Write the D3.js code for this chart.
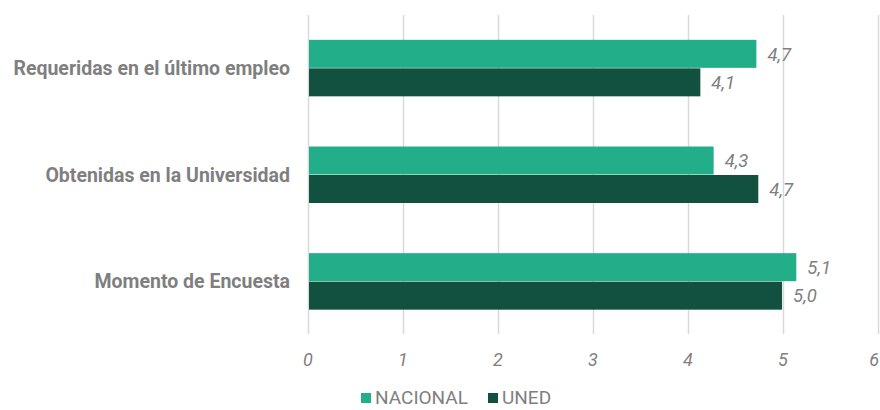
<!DOCTYPE html>
<html>
<head>
<meta charset="utf-8">
<script src="https://cdn.jsdelivr.net/npm/d3@7"></script>
<style>
  html, body { margin: 0; padding: 0; background: #fff; }
  svg { display: block; font-family: Roboto, "Noto Sans", sans-serif; }
</style>
</head>
<body>
<svg id="chart" width="880" height="410"></svg>
<script>
const categories = ["Requeridas en el último empleo", "Obtenidas en la Universidad", "Momento de Encuesta"];
const seriesNames = ["NACIONAL", "UNED"];
const nacional = [4.72, 4.27, 5.14];
const uned = [4.13, 4.74, 4.99];
const xTicks = [0, 1, 2, 3, 4, 5, 6];
const colors = ["#22AE88", "#125040"];

const W = 880, H = 410;
const margin = { top: 15, right: 2, bottom: 75, left: 308 };
const svg = d3.select("#chart");

const x = d3.scaleLinear().domain([0, 6]).range([margin.left, margin.left + 95 * 6]);
const y = d3.scaleBand().domain(categories).range([margin.top, 335]).paddingInner(0).paddingOuter(0);
const barGroupH = 57;
const inner = d3.scaleBand().domain(seriesNames).range([0, barGroupH]).padding(0);

const grey = "#7f7f7f";

// gridlines
svg.append("g").selectAll("line").data(xTicks).join("line")
  .attr("x1", d => x(d) + 0.5).attr("x2", d => x(d) + 0.5)
  .attr("y1", margin.top).attr("y2", 334)
  .attr("stroke", "#d9d9d9").attr("stroke-width", 1.5);

// axis labels
svg.append("g").selectAll("text").data(xTicks).join("text")
  .attr("x", d => d === 6 ? W - 1 : x(d))
  .attr("y", 366)
  .attr("text-anchor", d => d === 6 ? "end" : "middle")
  .attr("font-size", 18).attr("font-style", "italic")
  .attr("fill", grey)
  .text(d => d);

// category labels
svg.append("g").selectAll("text").data(categories).join("text")
  .attr("x", 290).attr("y", d => y(d) + y.bandwidth() / 2)
  .attr("dy", "0.35em")
  .attr("text-anchor", "end")
  .attr("font-size", 19.5).attr("font-weight", "bold")
  .attr("fill", grey)
  .text(d => d);

const series = [nacional, uned];
const fmt = v => d3.format(".1f")(v).replace(".", ",");

series.forEach((vals, si) => {
  const g = svg.append("g");
  const rows = categories.map((c, i) => ({ c, v: vals[i] }));
  g.selectAll("rect").data(rows).join("rect")
    .attr("x", x(0) + 1)
    .attr("y", d => y(d.c) + (y.bandwidth() - barGroupH) / 2 + inner(seriesNames[si]))
    .attr("width", d => x(d.v) - x(0) - 1)
    .attr("height", inner.bandwidth() - 0.5)
    .attr("fill", colors[si]);
  g.selectAll("text").data(rows).join("text")
    .attr("x", d => x(d.v) + 11)
    .attr("y", d => y(d.c) + (y.bandwidth() - barGroupH) / 2 + inner(seriesNames[si]) + inner.bandwidth() / 2)
    .attr("dy", "0.35em")
    .attr("font-size", 18.5).attr("font-style", "italic")
    .attr("fill", grey)
    .text(d => fmt(d.v));
});

// legend
const legend = svg.append("g");
const legendItems = [
  { name: seriesNames[0], color: colors[0], x: 361 },
  { name: seriesNames[1], color: colors[1], x: 488 }
];
legendItems.forEach(it => {
  legend.append("rect").attr("x", it.x).attr("y", 393).attr("width", 10).attr("height", 10).attr("fill", it.color);
  legend.append("text").attr("x", it.x + 14).attr("y", 404)
    .attr("font-size", 19).attr("fill", grey).text(it.name);
});
</script>
</body>
</html>
